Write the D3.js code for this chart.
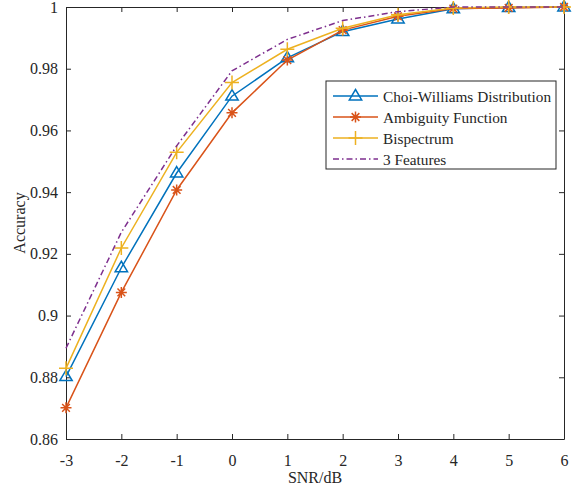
<!DOCTYPE html>
<html>
<head>
<meta charset="utf-8">
<script src="https://cdn.jsdelivr.net/npm/d3@7"></script>
<style>
  html, body { margin: 0; padding: 0; background: #fff; }
  svg { display: block; font-family: "Liberation Serif", "Times New Roman", serif; }
</style>
</head>
<body>
<svg id="chart" width="580" height="489"></svg>
<script>
// SNR values (dB) along the x axis
const snr = [-3, -2, -1, 0, 1, 2, 3, 4, 5, 6];

// Classification accuracy per feature set
const choiWilliams = [0.8802, 0.9155, 0.9462, 0.9711, 0.9835, 0.9920, 0.9961, 0.9994, 0.9998, 1.0];
const ambiguity    = [0.8701, 0.9075, 0.9407, 0.9657, 0.9828, 0.9925, 0.9970, 0.9995, 0.9997, 1.0];
const bispectrum   = [0.8829, 0.9219, 0.9529, 0.9755, 0.9863, 0.9931, 0.9975, 0.9997, 1.0, 1.0];
const threeFeat    = [0.8894, 0.9270, 0.9550, 0.9793, 0.9895, 0.9956, 0.9985, 1.0, 1.0, 1.0];

const seriesNames = ["Choi-Williams Distribution", "Ambiguity Function", "Bispectrum", "3 Features"];
const seriesColors = ["#0072BD", "#D95319", "#EDB120", "#7E2F8E"];
const seriesMarkers = ["triangle", "star", "plus", "none"];

const xTicks = [-3, -2, -1, 0, 1, 2, 3, 4, 5, 6];
const yTicks = [0.86, 0.88, 0.9, 0.92, 0.94, 0.96, 0.98, 1];

const series = [choiWilliams, ambiguity, bispectrum, threeFeat].map((vals, i) => ({
  name: seriesNames[i], color: seriesColors[i], marker: seriesMarkers[i],
  points: vals.map((v, j) => ({ x: snr[j], y: v }))
}));

const svg = d3.select("#chart");
const m = { left: 66, right: 16, top: 7, bottom: 50 };
const W = 580, H = 489;
const x = d3.scaleLinear().domain([-3, 6]).range([m.left, W - m.right]);
const y = d3.scaleLinear().domain([0.86, 1]).range([H - m.bottom, m.top]);
const axisColor = "#262626";
const fontSize = 16;

// Axes with inward ticks on all four sides
const fmtY = d => String(+d.toFixed(2));
const fmtX = d => String(d);   // plain hyphen-minus for negatives
const gx = svg.append("g").attr("transform", `translate(0,${y.range()[0]})`)
  .call(d3.axisBottom(x).tickValues(xTicks).tickSizeInner(-5).tickSizeOuter(0).tickPadding(16).tickFormat(fmtX));
const gxTop = svg.append("g").attr("transform", `translate(0,${m.top})`)
  .call(d3.axisTop(x).tickValues(xTicks).tickSizeInner(-5).tickSizeOuter(0).tickFormat(""));
const gy = svg.append("g").attr("transform", `translate(${m.left},0)`)
  .call(d3.axisLeft(y).tickValues(yTicks).tickSizeInner(-5).tickSizeOuter(0).tickPadding(8).tickFormat(fmtY));
const gyR = svg.append("g").attr("transform", `translate(${W - m.right},0)`)
  .call(d3.axisRight(y).tickValues(yTicks).tickSizeInner(-5).tickSizeOuter(0).tickFormat(""));

[gx, gxTop, gy, gyR].forEach(g => {
  g.selectAll("path, line").attr("stroke", axisColor).attr("stroke-width", 1);
  g.selectAll("text").attr("fill", axisColor).style("font-size", fontSize + "px")
    .style("font-family", "Liberation Serif, serif");
});

// Axis titles
svg.append("text").attr("x", (x(-3) + x(6)) / 2).attr("y", 483)
  .attr("text-anchor", "middle").attr("fill", axisColor).style("font-size", fontSize + "px")
  .text("SNR/dB");
svg.append("text").attr("transform", `translate(25,${(y(0.86) + y(1)) / 2}) rotate(-90)`)
  .attr("text-anchor", "middle").attr("fill", axisColor).style("font-size", fontSize + "px")
  .text("Accuracy");

// Marker drawing
function drawMarker(g, type, color, cx, cy) {
  if (type === "triangle") {
    const s = 6.5;
    g.append("path")
      .attr("d", `M${cx},${cy - s}L${cx + s * 0.95},${cy + s * 0.6}L${cx - s * 0.95},${cy + s * 0.6}Z`)
      .attr("fill", "none").attr("stroke", color).attr("stroke-width", 1.5);
  } else if (type === "star") {
    const s = 5.5;
    const d = [[0, -s, 0, s], [-s, 0, s, 0], [-s * 0.7, -s * 0.7, s * 0.7, s * 0.7], [-s * 0.7, s * 0.7, s * 0.7, -s * 0.7]]
      .map(a => `M${cx + a[0]},${cy + a[1]}L${cx + a[2]},${cy + a[3]}`).join("");
    g.append("path").attr("d", d).attr("stroke", color).attr("stroke-width", 1.5).attr("fill", "none");
  } else if (type === "plus") {
    const s = 7;
    g.append("path").attr("d", `M${cx - s},${cy}L${cx + s},${cy}M${cx},${cy - s}L${cx},${cy + s}`)
      .attr("stroke", color).attr("stroke-width", 1.5).attr("fill", "none");
  }
}

const line = d3.line().x(d => x(d.x)).y(d => y(d.y));
const plot = svg.append("g");
series.forEach(s => {
  plot.append("path").datum(s.points).attr("d", line)
    .attr("fill", "none").attr("stroke", s.color).attr("stroke-width", 1.5)
    .attr("stroke-dasharray", s.marker === "none" ? "6,3,1.5,3" : null);
  const mg = plot.append("g");
  s.points.forEach(p => drawMarker(mg, s.marker, s.color, x(p.x), y(p.y)));
});

// Legend
const lg = svg.append("g");
const lx = 326, ly = 81, lw = 230, lh = 88;
lg.append("rect").attr("x", lx).attr("y", ly).attr("width", lw).attr("height", lh)
  .attr("fill", "#fff").attr("stroke", axisColor).attr("stroke-width", 1);
series.forEach((s, i) => {
  const ry = 96 + i * 21;
  lg.append("line").attr("x1", 333).attr("x2", 378).attr("y1", ry).attr("y2", ry)
    .attr("stroke", s.color).attr("stroke-width", 1.5)
    .attr("stroke-dasharray", s.marker === "none" ? "6,3,1.5,3" : null);
  drawMarker(lg, s.marker, s.color, 355.5, ry);
  lg.append("text").attr("x", 383).attr("y", ry + 5.5).attr("fill", axisColor)
    .style("font-size", "15.3px").text(s.name);
});
</script>
</body>
</html>
